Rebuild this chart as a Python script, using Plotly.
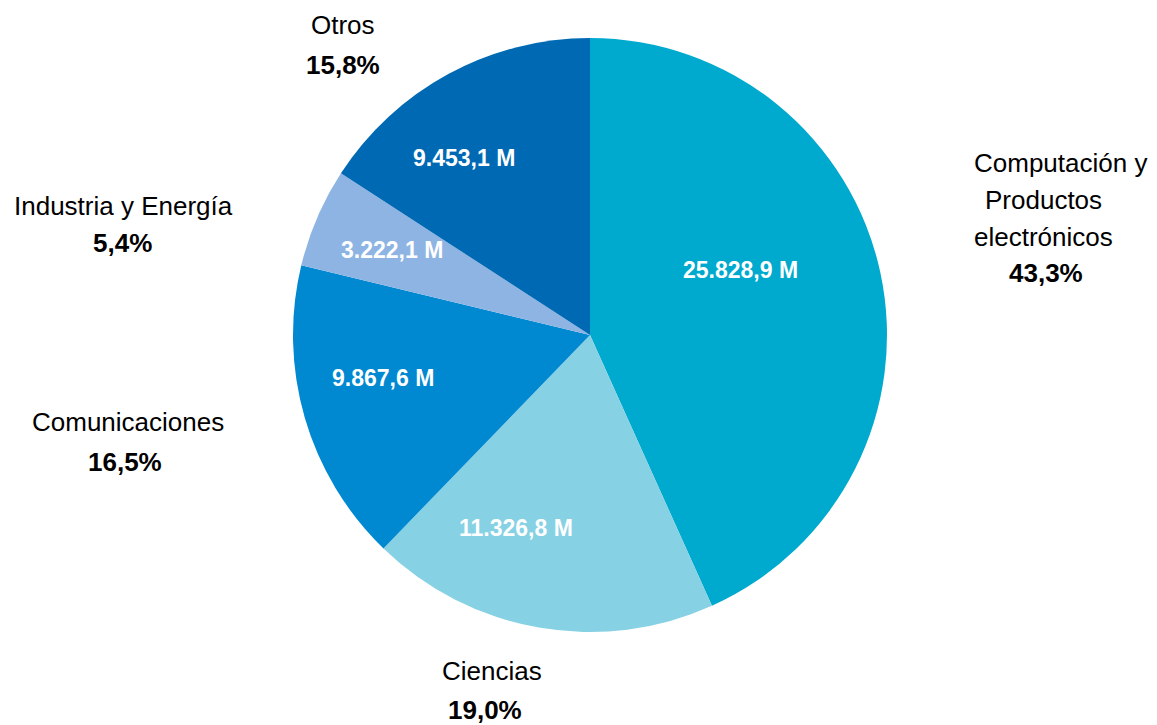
import plotly.graph_objects as go

categories = ["Computación y Productos electrónicos", "Ciencias", "Comunicaciones",
              "Industria y Energía", "Otros"]
label_lines = [["Computación y", "Productos", "electrónicos"], ["Ciencias"],
               ["Comunicaciones"], ["Industria y Energía"], ["Otros"]]
values = [25828.9, 11326.8, 9867.6, 3222.1, 9453.1]
colors = ["#00A9CE", "#86D1E4", "#0088D1", "#8EB4E3", "#0069B4"]

W, H = 1157, 725
OFF = 8  # page body margin
cx, cy, R = 590, 335, 297

# label placement (page-pixel centres per line, last line = percentage) - layout only
outside_pos = [
    [(1060, 163), (1043, 200), (1043, 237), (1046, 273)],
    [(492, 671), (485, 710)],
    [(128, 422), (125, 462)],
    [(123, 206), (122, 243)],
    [(343, 25), (343, 65)],
]
inside_pos = [(740, 270), (516, 528), (383, 378), (392, 250), (464, 158)]

FONT = "Liberation Sans, Arial, sans-serif"


def px(x):
    return (x - OFF) / W


def py(y):
    return 1 - (y - OFF) / H


def fmt_num(v, dec=1):
    s = f"{v:,.{dec}f}"
    return s.replace(",", "X").replace(".", ",").replace("X", ".")


total = sum(values)

fig = go.Figure(go.Pie(
    labels=categories, values=values, sort=False, direction="clockwise",
    rotation=0, marker=dict(colors=colors, line=dict(width=0)),
    textinfo="none", hoverinfo="label+value+percent", showlegend=False,
    domain=dict(x=[px(cx - R), px(cx + R)], y=[py(cy + R), py(cy - R)]),
))

ann = []
for i, v in enumerate(values):
    pct = fmt_num(v / total * 100)
    lines = label_lines[i] + [f"<b>{pct}%</b>"]
    for txt, (ox, oy) in zip(lines, outside_pos[i]):
        ann.append(dict(x=px(ox), y=py(oy), xref="paper", yref="paper", text=txt,
                        showarrow=False, xanchor="center", yanchor="middle",
                        font=dict(family=FONT, size=26, color="#000000")))
    ix, iy = inside_pos[i]
    ann.append(dict(x=px(ix), y=py(iy), xref="paper", yref="paper",
                    text=f"<b>{fmt_num(v)} M</b>", showarrow=False,
                    xanchor="center", yanchor="middle",
                    font=dict(family=FONT, size=23, color="#FFFFFF")))

fig.update_layout(width=W, height=H, margin=dict(l=0, r=0, t=0, b=0),
                  paper_bgcolor="white", plot_bgcolor="white", annotations=ann)
fig.write_html("out.html")
